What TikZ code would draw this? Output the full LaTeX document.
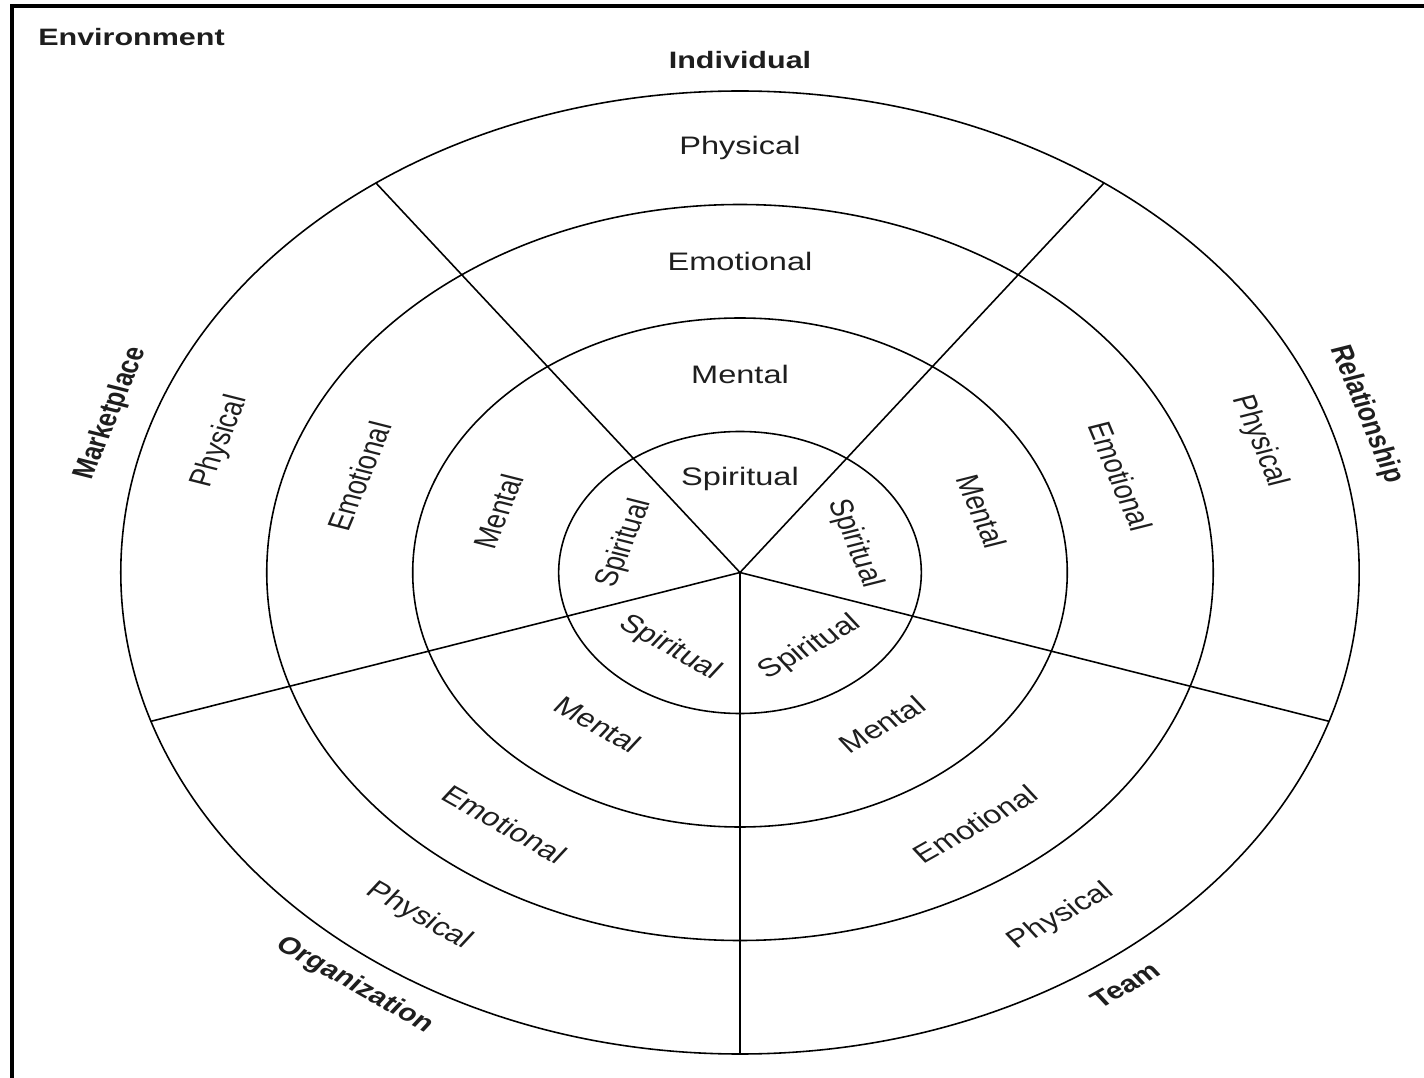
\documentclass[tikz,border=0pt]{standalone}
\usepackage{fontspec}
\setmainfont{Liberation Sans}
\definecolor{ink}{RGB}{30, 30, 30}
\tikzset{
    ring/.style={draw=black, line width=0.9pt},
    spoke/.style={draw=black, line width=0.9pt},
    frame/.style={draw=black, line width=1.8pt},
    ringlabel/.style={text=ink, inner sep=0pt, font=\fontsize{14.4}{17}\selectfont},
    arealabel/.style={text=ink, inner sep=0pt, font=\fontsize{13.5}{16}\selectfont\bfseries}
}

\begin{document}
\begin{tikzpicture}[x=2cm, y=2cm]
    \useasboundingbox (-7.40,-5.055) rectangle (6.84,5.725);
    \draw [frame] (-7.28,-5.3) |- (7.0,5.665);

    \begin{scope}[xscale=1.286, transform shape]
        \coordinate (hub) at (0,0);
        \draw [ring] (hub) circle [radius=1.41];
        \draw [ring] (hub) circle [radius=2.545];
        \draw [ring] (hub) circle [radius=3.68];
        \draw [ring] (hub) circle [radius=4.815];

        \coordinate (rimA) at (54:4.815);
        \coordinate (rimB) at (126:4.815);
        \coordinate (rimC) at (198:4.815);
        \coordinate (rimD) at (270:4.815);
        \coordinate (rimE) at (342:4.815);
        \draw [spoke] (hub) -- (rimA);
        \draw [spoke] (hub) -- (rimB);
        \draw [spoke] (hub) -- (rimC);
        \draw [spoke] (hub) -- (rimD);
        \draw [spoke] (hub) -- (rimE);

        \node (env) [arealabel, anchor=west] at (-5.46,5.35) {Environment};

        \node (individual) [arealabel] at (90:5.125) {Individual};
        \node (indPhys) [ringlabel] at (90:4.2475) {Physical};
        \node (indEmo) [ringlabel] at (90:3.1125) {Emotional};
        \node (indMent) [ringlabel] at (90:1.9775) {Mental};
        \node (indSpir) [ringlabel] at (90:0.94) {Spiritual};

        \node (relationship) [arealabel, rotate=-72] at (18:5.12) {Relationship};
        \node (relPhys) [ringlabel, rotate=-72] at (18:4.2475) {Physical};
        \node (relEmo) [ringlabel, rotate=-72] at (18:3.1125) {Emotional};
        \node (relMent) [ringlabel, rotate=-72] at (18:1.9775) {Mental};
        \node (relSpir) [ringlabel, rotate=-72] at (18:0.94) {Spiritual};

        \node (team) [arealabel, rotate=36] at (-54:5.10) {Team};
        \node (teamPhys) [ringlabel, rotate=36] at (-54:4.2475) {Physical};
        \node (teamEmo) [ringlabel, rotate=36] at (-54:3.1125) {Emotional};
        \node (teamMent) [ringlabel, rotate=36] at (-54:1.88) {Mental};
        \node (teamSpir) [ringlabel, rotate=36] at (-54:0.93) {Spiritual};

        \node (organization) [arealabel, rotate=-36] at (234:5.10) {Organization};
        \node (orgPhys) [ringlabel, rotate=-36] at (234:4.2475) {Physical};
        \node (orgEmo) [ringlabel, rotate=-36] at (234:3.1125) {Emotional};
        \node (orgMent) [ringlabel, rotate=-36] at (234:1.88) {Mental};
        \node (orgSpir) [ringlabel, rotate=-36] at (234:0.93) {Spiritual};

        \node (marketplace) [arealabel, rotate=72] at (162:5.14) {Marketplace};
        \node (mktPhys) [ringlabel, rotate=72] at (162:4.2475) {Physical};
        \node (mktEmo) [ringlabel, rotate=72] at (162:3.1125) {Emotional};
        \node (mktMent) [ringlabel, rotate=72] at (162:1.9775) {Mental};
        \node (mktSpir) [ringlabel, rotate=72] at (162:0.94) {Spiritual};
    \end{scope}
\end{tikzpicture}
\end{document}
